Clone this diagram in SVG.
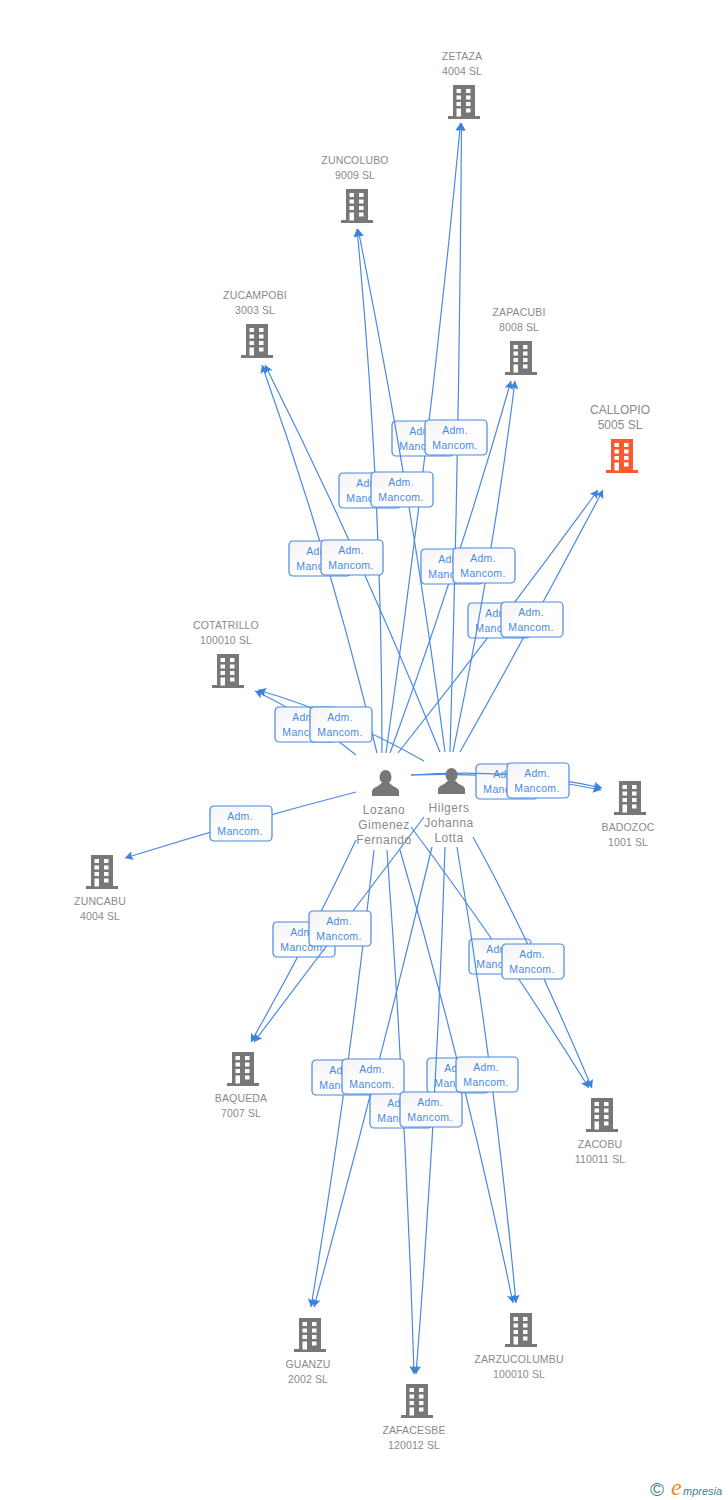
<svg xmlns="http://www.w3.org/2000/svg" width="728" height="1500" viewBox="0 0 728 1500">
<style>
text{font-family:"Liberation Sans",Arial,sans-serif}
.n{font-size:10.5px;fill:#8a8a8a;text-anchor:middle;letter-spacing:.15px}
.c{font-size:12px;fill:#8a8a8a;text-anchor:middle}
.p{font-size:12px;fill:#8a8a8a;text-anchor:middle;letter-spacing:.5px}
.l{font-size:10.5px;fill:#4a8ae2;text-anchor:middle;letter-spacing:.3px}
.b{fill:url(#g);stroke:#4a8ae2;stroke-width:1.2}
.e{fill:none;stroke:#4a8ae2;stroke-width:1.2;marker-end:url(#a)}
</style>
<defs>
<linearGradient id="g" x1="0" y1="0" x2="1" y2="1"><stop offset="0" stop-color="#f2f2f2"/><stop offset=".5" stop-color="#fff"/><stop offset="1" stop-color="#fafafa"/></linearGradient>
<marker id="a" markerUnits="userSpaceOnUse" markerWidth="10" markerHeight="10" refX="8" refY="4.500" orient="auto"><path d="M0,0L8,4.500L0,9L1.500,4.500Z" fill="#3c82dc"/></marker>
<g id="bld"><path d="M-11,-17H11V14H16V17H-16V14H-11Z"/><g fill="#fff"><rect x="-7.500" y="-13" width="4.500" height="4"/><rect x="2" y="-13" width="4.500" height="4"/><rect x="-7.500" y="-6.500" width="4.500" height="4"/><rect x="2" y="-6.500" width="4.500" height="4"/><rect x="-7.500" y="0" width="4.500" height="4"/><rect x="2" y="0" width="4.500" height="4"/><rect x="-7.500" y="6.500" width="4.500" height="8"/><rect x="2" y="6.500" width="4.500" height="4"/></g></g>
<g id="per"><ellipse cx="0" cy="-5" rx="6" ry="7"/><path d="M-13.500,14V9.500C-13.500,5.500 -7,5 -4,1L4,1C7,5 13.500,5.500 13.500,9.500V14Z"/></g>
<g id="lab"><rect class="b" width="62" height="35" rx="4"/><text class="l" x="30" y="13.500">Adm.</text><text class="l" x="30" y="28.500">Mancom.</text></g>
</defs>
<g id="connectors-a">
<path class="e" d="M386,753Q431,438 460.500,123"/>
<path class="e" d="M382,753Q382,490 357,229"/>
<path class="e" d="M377,753Q331,559 262,365"/>
<path class="e" d="M390,753Q458,567 511,381"/>
<path class="e" d="M398,753Q502.600,621 598,490"/>
<path class="e" d="M356,755Q305,714 255,691"/>
<path class="e" d="M411,775Q510,771 601,790"/>
<path class="e" d="M356,792Q240,822 125,858"/>
<path class="e" d="M356,840Q308.500,941 251,1042"/>
<path class="e" d="M411,827Q500,945 589,1088"/>
<path class="e" d="M374,850Q349,1078 311,1307"/>
<path class="e" d="M387,850Q406,1112 414,1374"/>
<path class="e" d="M400,850Q466,1076 513,1303"/>
</g>
<g id="labels-a">
<use href="#lab" x="392" y="421"/><use href="#lab" x="339" y="473"/><use href="#lab" x="289" y="541"/><use href="#lab" x="421" y="549"/><use href="#lab" x="468" y="603"/><use href="#lab" x="275" y="707"/><use href="#lab" x="476" y="764"/><use href="#lab" x="273" y="922"/><use href="#lab" x="469" y="939"/><use href="#lab" x="312" y="1060"/><use href="#lab" x="370" y="1093"/><use href="#lab" x="427" y="1058"/><use href="#lab" x="210" y="806"/>
</g>
<g id="connectors-b">
<path class="e" d="M450,752Q459.500,437 461.500,123"/>
<path class="e" d="M445,752Q411,490 358,229"/>
<path class="e" d="M440,752Q362,558 265,365"/>
<path class="e" d="M453,752Q492,566 515,381"/>
<path class="e" d="M460,752Q534,621 603,490"/>
<path class="e" d="M424,761Q341,714 258,690"/>
<path class="e" d="M411,775Q515,768 602,788"/>
<path class="e" d="M424,817L254,1042"/>
<path class="e" d="M473,837Q525,930 592,1088"/>
<path class="e" d="M432,847Q377,1077 314,1307"/>
<path class="e" d="M445,847Q437,1110 416,1374"/>
<path class="e" d="M457,847Q495,1075 516,1303"/>
</g>
<g id="labels-b">
<use href="#lab" x="425" y="420"/><use href="#lab" x="371" y="472"/><use href="#lab" x="321" y="540"/><use href="#lab" x="453" y="548"/><use href="#lab" x="501" y="602"/><use href="#lab" x="310" y="707"/><use href="#lab" x="507" y="763"/><use href="#lab" x="309" y="911"/><use href="#lab" x="502" y="944"/><use href="#lab" x="342" y="1059"/><use href="#lab" x="400" y="1092"/><use href="#lab" x="456" y="1057"/>
</g>
<g id="n-zetaza" fill="#777"><text class="n" x="462" y="60">ZETAZA</text><text class="n" x="462" y="75">4004 SL</text><use href="#bld" x="464" y="102"/></g>
<g id="n-zuncolubo" fill="#777"><text class="n" x="355" y="164">ZUNCOLUBO</text><text class="n" x="355" y="179">9009 SL</text><use href="#bld" x="357" y="206"/></g>
<g id="n-zucampobi" fill="#777"><text class="n" x="255" y="299">ZUCAMPOBI</text><text class="n" x="255" y="314">3003 SL</text><use href="#bld" x="257" y="341"/></g>
<g id="n-zapacubi" fill="#777"><text class="n" x="519" y="316">ZAPACUBI</text><text class="n" x="519" y="331">8008 SL</text><use href="#bld" x="521" y="358"/></g>
<g id="n-callopio" fill="#fa5a30"><text class="c" x="620" y="414">CALLOPIO</text><text class="c" x="620" y="429">5005 SL</text><use href="#bld" x="622" y="456"/></g>
<g id="n-cotatrillo" fill="#777"><text class="n" x="226" y="629">COTATRILLO</text><text class="n" x="226" y="644">100010 SL</text><use href="#bld" x="228" y="671"/></g>
<g id="n-badozoc" fill="#777"><use href="#bld" x="630" y="798"/><text class="n" x="628" y="831">BADOZOC</text><text class="n" x="628" y="846">1001 SL</text></g>
<g id="n-zuncabu" fill="#777"><use href="#bld" x="102" y="872"/><text class="n" x="100" y="905">ZUNCABU</text><text class="n" x="100" y="920">4004 SL</text></g>
<g id="n-baqueda" fill="#777"><use href="#bld" x="243" y="1069"/><text class="n" x="241" y="1102">BAQUEDA</text><text class="n" x="241" y="1117">7007 SL</text></g>
<g id="n-zacobu" fill="#777"><use href="#bld" x="602" y="1115"/><text class="n" x="600" y="1148">ZACOBU</text><text class="n" x="600" y="1163">110011 SL</text></g>
<g id="n-guanzu" fill="#777"><use href="#bld" x="310" y="1335"/><text class="n" x="308" y="1368">GUANZU</text><text class="n" x="308" y="1383">2002 SL</text></g>
<g id="n-zafacesbe" fill="#777"><use href="#bld" x="417" y="1401"/><text class="n" x="414" y="1434">ZAFACESBE</text><text class="n" x="414" y="1449">120012 SL</text></g>
<g id="n-zarzucolumbu" fill="#777"><use href="#bld" x="521" y="1330"/><text class="n" x="519" y="1363">ZARZUCOLUMBU</text><text class="n" x="519" y="1378">100010 SL</text></g>
<g id="n-lozano" fill="#777"><use href="#per" x="385.500" y="782"/><text class="p" x="384" y="814">Lozano</text><text class="p" x="384" y="829">Gimenez</text><text class="p" x="384" y="844">Fernando</text></g>
<g id="n-hilgers" fill="#777"><use href="#per" x="451.500" y="780"/><text class="p" x="449" y="812">Hilgers</text><text class="p" x="449" y="827">Johanna</text><text class="p" x="449" y="842">Lotta</text></g>
<g id="logo"><text x="650" y="1495.500" font-size="19" fill="#3f7f96">©</text><text x="671" y="1495" font-size="24" font-style="italic" fill="#f08a1d" style="font-family:'Liberation Serif',serif">e</text><text x="683" y="1495" font-size="11" font-style="italic" fill="#3f7f96">mpresia</text></g>
</svg>
